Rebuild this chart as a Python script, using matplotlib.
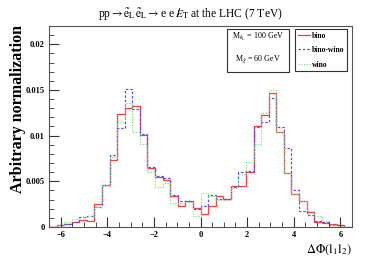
import numpy as np
import matplotlib
matplotlib.use("Agg")
import matplotlib.pyplot as plt
from matplotlib.patches import Rectangle
from matplotlib.ticker import MultipleLocator

plt.rcParams['font.family'] = ['Liberation Serif', 'DejaVu Serif']
plt.rcParams['mathtext.fontset'] = 'stix'

# 40 bins over [-6.5, 6.5]
edges = np.linspace(-6.5, 6.5, 41)

bino = [0.0, 0.0002, 0.0003, 0.0006, 0.0008, 0.0007, 0.0025, 0.0046, 0.0073, 0.0124,
        0.0130, 0.0132, 0.0101, 0.0065, 0.0055, 0.0051, 0.0034, 0.0023, 0.0029, 0.0021,
        0.0014, 0.0023, 0.0034, 0.0031, 0.0045, 0.0045, 0.0060, 0.0110, 0.0123, 0.0147,
        0.0104, 0.0059, 0.0036, 0.0029, 0.0016, 0.0006, 0.0004, 0.0003, 0.0002, 0.0]
bino_wino = [0.0, 0.0002, 0.0003, 0.0005, 0.0011, 0.0012, 0.0022, 0.0046, 0.0079, 0.0108,
             0.0151, 0.0129, 0.0102, 0.0066, 0.0056, 0.0054, 0.0035, 0.0029, 0.0028, 0.0020,
             0.0023, 0.0035, 0.0031, 0.0031, 0.0044, 0.0060, 0.0061, 0.0109, 0.0115, 0.0141,
             0.0109, 0.0086, 0.0040, 0.0017, 0.0013, 0.0007, 0.0005, 0.0002, 0.0002, 0.0]
wino = [0.0, 0.0002, 0.0005, 0.0009, 0.0011, 0.0012, 0.0022, 0.0046, 0.0077, 0.0115,
        0.0136, 0.0104, 0.0091, 0.0060, 0.0044, 0.0048, 0.0026, 0.0026, 0.0027, 0.0012,
        0.0037, 0.0034, 0.0030, 0.0030, 0.0043, 0.0058, 0.0071, 0.0091, 0.0125, 0.0150,
        0.0104, 0.0059, 0.0036, 0.0028, 0.0018, 0.0012, 0.0007, 0.0002, 0.0001, 0.0]

W, H = 390.0, 265.0
fig = plt.figure(figsize=(3.9, 2.65), dpi=100)
ax = fig.add_axes([49 / W, 1 - 227 / H, 303 / W, 201 / H])

ax.stairs(bino, edges, color='#ff3b3b', lw=0.9, label='bino')
ax.stairs(bino_wino, edges, color='#5050ff', lw=0.9, ls=(0, (2, 1.5)), label='bino-wino')
ax.stairs(wino, edges, color='#80e080', lw=0.9, ls=(0, (1, 1.2)), label='wino')

ax.set_xlim(-6.5, 6.5)
ax.set_ylim(0, 0.022)
ax.xaxis.set_major_locator(MultipleLocator(2))
ax.xaxis.set_minor_locator(MultipleLocator(0.5))
ax.yaxis.set_major_locator(MultipleLocator(0.005))
ax.yaxis.set_minor_locator(MultipleLocator(0.001))
ax.tick_params(which='both', direction='in', top=False, right=False, color='#333333')
ax.tick_params(which='major', length=7, width=0.8, labelsize=6, pad=3)
ax.tick_params(which='minor', length=3.5, width=0.6)
ax.set_yticks([0, 0.005, 0.01, 0.015, 0.02])
ax.set_yticklabels(['0', '0.005', '0.01', '0.015', '0.02'])
for lab in ax.get_xticklabels() + ax.get_yticklabels():
    lab.set_fontweight('bold')
for s in ax.spines.values():
    s.set_color('#555555')
    s.set_linewidth(0.8)

fig.text(18 / W, 1 - 25 / H, 'Arbitrary normalization', rotation=90,
         ha='center', va='top', fontsize=11.5, fontweight='bold')
ax.set_xlabel(r'$\Delta\Phi(\mathrm{l}_1\mathrm{l}_2)$', fontsize=9, loc='right', labelpad=2)

fig.text(190.5 / W, 1 - 15 / H,
         r'pp$\rightarrow\tilde{\mathrm{e}}_\mathrm{L}\,\tilde{\mathrm{e}}_\mathrm{L}\rightarrow$e e $/\!\!\!E_\mathrm{T}$ at the LHC (7 TeV)',
         ha='center', va='center', fontsize=8.3)

# parameter box
fig.add_artist(Rectangle((227 / W, 1 - 72 / H), 62 / W, 43 / H, transform=fig.transFigure,
                         fc='white', ec='#333333', lw=0.8))
fig.text(258 / W, 1 - 37 / H, r'M$_{\tilde{\mathrm{e}}_\mathrm{L}}$ = 100 GeV',
         ha='center', va='center', fontsize=5.8)
fig.text(258 / W, 1 - 59 / H, r'M$_{\tilde{\chi}}$ = 60 GeV',
         ha='center', va='center', fontsize=5.8)

leg = ax.legend(loc='upper right', bbox_to_anchor=(347 / W, 1 - 29 / H),
                bbox_transform=fig.transFigure,
                prop={'weight': 'bold', 'size': 5.5}, fancybox=False, framealpha=1,
                edgecolor='#333333', handlelength=1.5, handletextpad=0.3,
                borderpad=0.35, labelspacing=0.85, borderaxespad=0)
leg.get_frame().set_linewidth(0.8)

fig.savefig('out.png', dpi=100)
